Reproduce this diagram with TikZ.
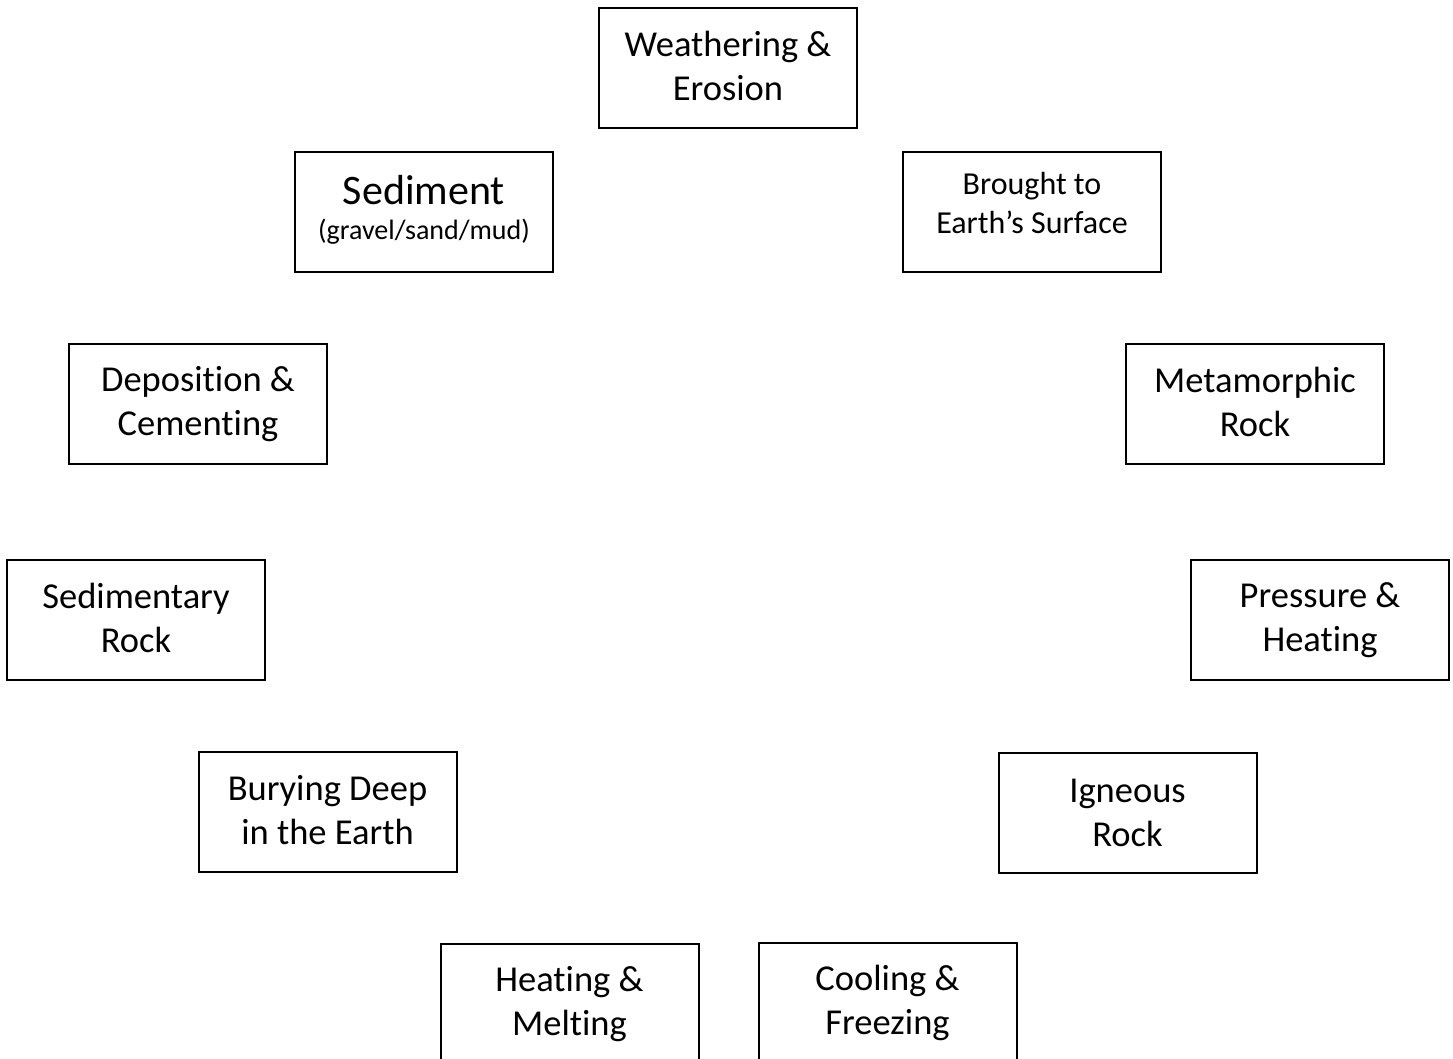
\documentclass[tikz,border=0pt]{standalone}
\usepackage{fontspec}
\setmainfont{Carlito}[RawFeature={-liga;-clig;-calt;-dlig}]
% #1 extra height (moves text down by half), #2 extra depth (moves text up by half)
\newcommand{\padtext}[3]{\raisebox{0pt}[\dimexpr\height+#1\relax][\dimexpr\depth+#2\relax]{\begin{tabular}{@{}c@{}}#3\end{tabular}}}
\begin{document}
\begin{tikzpicture}[x=1pt,y=-1pt,
  box/.style={draw=black,line width=2pt,minimum width=258pt,minimum height=120pt,
    align=center,inner sep=0pt,font=\fontsize{36.5}{44}\selectfont},
  smallbox/.style={box,font=\fontsize{32}{39}\selectfont}]
\path[use as bounding box,clip] (0,0) rectangle (1453,1059);
\node[box] (we) at (728,68) {\padtext{4pt}{0pt}{Weathering \&\\Erosion}};
\node[box] (sed) at (424,212) {\padtext{2pt}{0pt}{{\fontsize{42}{44}\selectfont Sediment}\\[-9pt]{\fontsize{28}{34}\selectfont (gravel/sand/mud)}}};
\node[smallbox] (br) at (1032,212) {\padtext{0pt}{12pt}{Brought to\\Earth’s Surface}};
\node[box] (dep) at (198,404) {Deposition \&\\Cementing};
\node[box] (met) at (1255,404) {\padtext{4pt}{0pt}{Metamorphic\\Rock}};
\node[box] (sr) at (136,620) {\padtext{4pt}{0pt}{Sedimentary\\Rock}};
\node[box] (pr) at (1320,620) {Pressure \&\\Heating};
\node[box] (bur) at (327.5,812) {\padtext{4pt}{0pt}{Burying Deep\\in the Earth}};
\node[box] (ig) at (1127.5,813) {Igneous\\Rock};
\node[box] (hm) at (569.5,1004) {Heating \&\\Melting};
\node[box] (cf) at (887.5,1003) {Cooling \&\\Freezing};
\end{tikzpicture}
\end{document}
